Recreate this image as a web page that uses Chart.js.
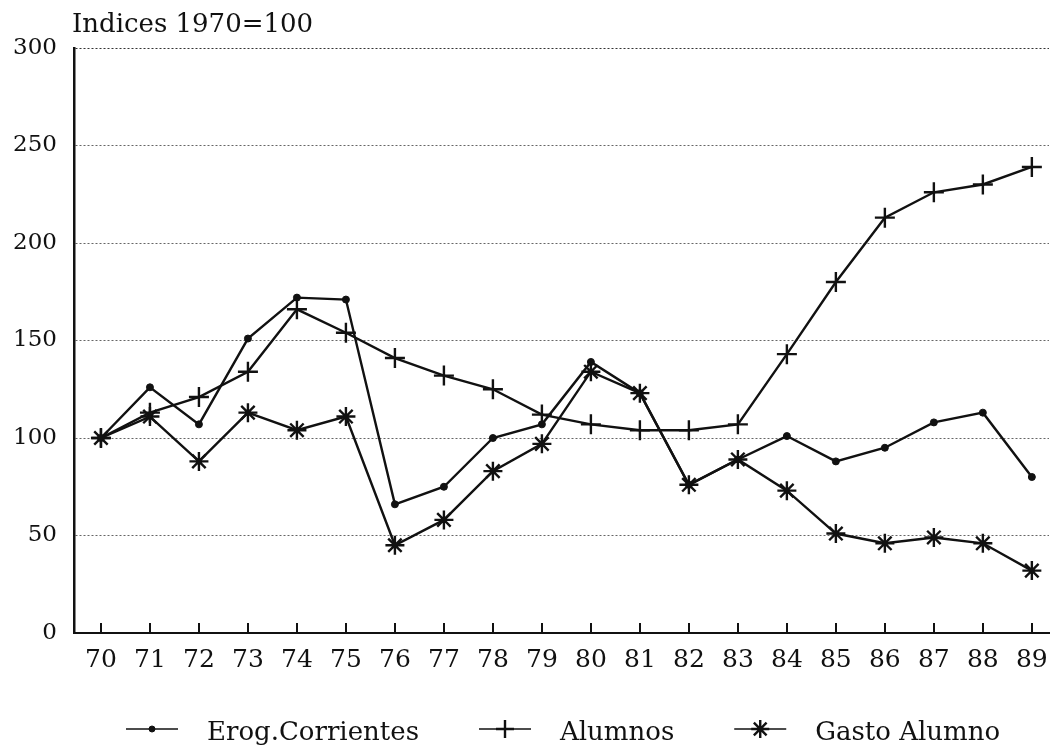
<!DOCTYPE html>
<html>
<head>
<meta charset="utf-8">
<title>Indices 1970=100</title>
<script src="https://cdn.jsdelivr.net/npm/chart.js@4/dist/chart.umd.min.js"></script>
<style>
  html, body { margin: 0; padding: 0; background: #fff; }
  #wrap { width: 1051px; height: 749px; }
</style>
</head>
<body>
<div id="wrap"><canvas id="c" width="1051" height="749"></canvas></div>
<script>
// Years 1970..1989 and their axis labels
const years = [70, 71, 72, 73, 74, 75, 76, 77, 78, 79, 80, 81, 82, 83, 84, 85, 86, 87, 88, 89];
const yearLabels = ['70', '71', '72', '73', '74', '75', '76', '77', '78', '79',
                    '80', '81', '82', '83', '84', '85', '86', '87', '88', '89'];

// Index values (1970 = 100)
const erogCorrientes = [100, 126, 107, 151, 172, 171, 66, 75, 100, 107,
                        139, 123, 76, 89, 101, 88, 95, 108, 113, 80];
const alumnos = [100, 113, 121, 134, 166, 154, 141, 132, 125, 112,
                 107, 104, 104, 107, 143, 180, 213, 226, 230, 239];
const gastoAlumno = [100, 111, 88, 113, 104, 111, 45, 58, 83, 97,
                     134, 123, 76, 89, 73, 51, 46, 49, 46, 32];

const seriesNames = ['Erog.Corrientes', 'Alumnos', 'Gasto Alumno'];
const yTicks = [0, 50, 100, 150, 200, 250, 300];
const titleText = 'Indices 1970=100';

const INK = '#111';
const SERIF = '"DejaVu Serif", "Liberation Serif", serif';

const toPoints = vals => years.map((y, i) => ({ x: y, y: vals[i] }));

const baseDs = {
  borderColor: INK,
  borderWidth: 2.4,
  backgroundColor: INK,
  pointBackgroundColor: INK,
  pointBorderColor: INK,
  pointBorderWidth: 2.4,
  tension: 0,
  fill: false,
  clip: false
};

const datasets = [
  Object.assign({}, baseDs, { label: seriesNames[0], data: toPoints(erogCorrientes), pointStyle: 'circle', pointRadius: 3.5, pointBorderWidth: 1 }),
  Object.assign({}, baseDs, { label: seriesNames[1], data: toPoints(alumnos), pointStyle: 'cross', pointRadius: 10 }),
  Object.assign({}, baseDs, { label: seriesNames[2], data: toPoints(gastoAlumno), pointStyle: 'star', pointRadius: 9.5 })
];

// Heading above the plot, aligned with the value axis
const headingPlugin = {
  id: 'heading',
  afterDraw(chart) {
    const { ctx, chartArea } = chart;
    ctx.save();
    ctx.fillStyle = INK;
    ctx.font = '26px ' + SERIF;
    ctx.textAlign = 'left';
    ctx.textBaseline = 'alphabetic';
    ctx.fillText(titleText, chartArea.left - 2, 32);
    ctx.restore();
  }
};

// Short upward tick marks on the category axis
const innerTicksPlugin = {
  id: 'innerTicks',
  afterDatasetsDraw(chart) {
    const { ctx, chartArea, scales } = chart;
    ctx.save();
    ctx.strokeStyle = INK;
    ctx.lineWidth = 2;
    years.forEach(v => {
      const x = Math.round(scales.x.getPixelForValue(v));
      ctx.beginPath();
      ctx.moveTo(x, chartArea.bottom);
      ctx.lineTo(x, chartArea.bottom - 10);
      ctx.stroke();
    });
    ctx.restore();
  }
};

// Legend row: line sample with the series marker, then the name
const lineLegendPlugin = {
  id: 'lineLegend',
  afterDraw(chart) {
    const { ctx } = chart;
    const y = 729;
    let x = 126;
    ctx.save();
    ctx.font = '26px ' + SERIF;
    ctx.textBaseline = 'alphabetic';
    chart.data.datasets.forEach(ds => {
      ctx.strokeStyle = INK;
      ctx.fillStyle = INK;
      ctx.lineWidth = 1.5;
      ctx.beginPath();
      ctx.moveTo(x, y);
      ctx.lineTo(x + 52, y);
      ctx.stroke();
      ctx.lineWidth = ds.pointBorderWidth;
      Chart.helpers.drawPoint(ctx, {
        pointStyle: ds.pointStyle,
        radius: ds.pointStyle === 'circle' ? 3 : 9,
        borderWidth: ds.pointBorderWidth,
        rotation: 0
      }, x + 26, y);
      const tx = x + 52 + 29;
      ctx.fillStyle = INK;
      ctx.fillText(ds.label, tx, y + 11);
      x = tx + ctx.measureText(ds.label).width + 60;
    });
    ctx.restore();
  }
};

new Chart(document.getElementById('c'), {
  type: 'line',
  data: { datasets },
  plugins: [headingPlugin, innerTicksPlugin, lineLegendPlugin],
  options: {
    responsive: false,
    animation: false,
    devicePixelRatio: 1,
    layout: { autoPadding: false, padding: { top: 48, left: 0, right: 2, bottom: 66 } },
    plugins: {
      legend: { display: false },
      title: { display: false },
      tooltip: { enabled: false }
    },
    scales: {
      x: {
        type: 'linear',
        min: 69.45,
        max: 89.35,
        afterBuildTicks: s => { s.ticks = years.map(v => ({ value: v })); },
        afterFit: s => { s.height = 50; },
        ticks: {
          autoSkip: false,
          maxRotation: 0,
          color: INK,
          padding: 1,
          font: { family: SERIF, size: 25, lineHeight: 2.1 },
          callback: v => {
            const i = years.indexOf(v);
            return i >= 0 ? yearLabels[i] : '';
          }
        },
        grid: { display: false, drawTicks: false },
        border: { display: true, color: INK, width: 2 }
      },
      y: {
        min: 0,
        max: 300,
        afterBuildTicks: s => { s.ticks = yTicks.map(v => ({ value: v })); },
        afterFit: s => { s.width = 74; },
        ticks: {
          color: INK,
          padding: 17,
          font: { family: SERIF, size: 23 }
        },
        grid: {
          drawTicks: false,
          color: c => (c.tick && c.tick.value === 300 ? '#333' : '#666'),
          lineWidth: 1
        },
        border: { display: true, color: INK, width: 2.5, dash: [2, 2] }
      }
    }
  }
});
</script>
</body>
</html>
